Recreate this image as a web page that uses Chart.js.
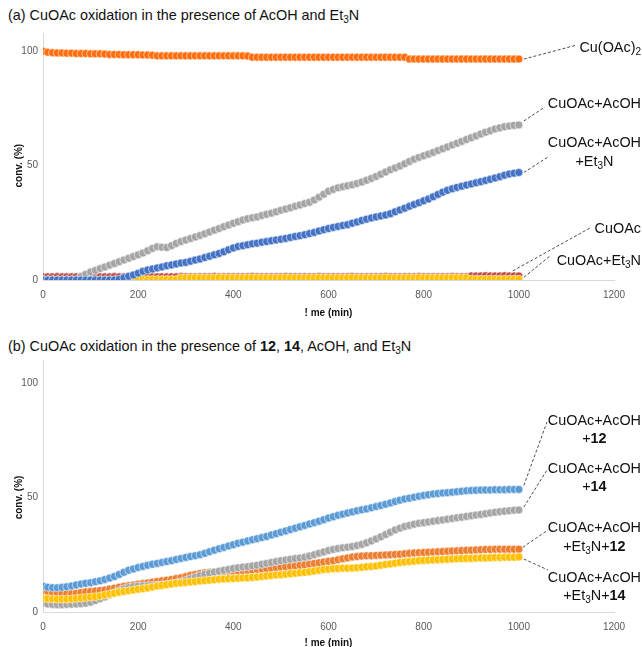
<!DOCTYPE html>
<html>
<head>
<meta charset="utf-8">
<script src="https://cdn.jsdelivr.net/npm/chart.js@4.4.1/dist/chart.umd.min.js"></script>
<style>
  body { margin: 0; background: #fff; font-family: "Liberation Sans", Arial, sans-serif; }
  #wrap { position: relative; width: 642px; height: 647px; overflow: hidden; }
  canvas { position: absolute; left: 0; }
  .ttl { position: absolute; left: 8px; font-size: 14.4px; color: #111; white-space: nowrap; line-height: 16px; }
  .lab { position: absolute; right: 1px; font-size: 14.4px; color: #111; text-align: center; white-space: nowrap; }
  sub { font-size: 10px; vertical-align: -3px; line-height: 0; }
</style>
</head>
<body>
<div id="wrap">
  <div class="ttl" style="top:7px">(a) CuOAc oxidation in the presence of AcOH and Et<sub>3</sub>N</div>
  <canvas id="chartA" width="642" height="322" style="top:0"></canvas>
  <div class="lab" style="top:38px;line-height:18px">Cu(OAc)<sub>2</sub></div>
  <div class="lab" style="top:94px;line-height:18px">CuOAc+AcOH</div>
  <div class="lab" style="top:133px;line-height:19px">CuOAc+AcOH<br>+Et<sub>3</sub>N</div>
  <div class="lab" style="top:219px;line-height:18px">CuOAc</div>
  <div class="lab" style="top:251px;line-height:18px">CuOAc+Et<sub>3</sub>N</div>

  <div class="ttl" style="top:338px">(b) CuOAc oxidation in the presence of <b>12</b>, <b>14</b>, AcOH, and Et<sub>3</sub>N</div>
  <canvas id="chartB" width="642" height="317" style="top:330px"></canvas>
  <div class="lab" style="top:411px;line-height:18px">CuOAc+AcOH<br>+<b>12</b></div>
  <div class="lab" style="top:459px;line-height:18px">CuOAc+AcOH<br>+<b>14</b></div>
  <div class="lab" style="top:518px;line-height:19px">CuOAc+AcOH<br>+Et<sub>3</sub>N+<b>12</b></div>
  <div class="lab" style="top:568px;line-height:18px">CuOAc+AcOH<br>+Et<sub>3</sub>N+<b>14</b></div>
</div>
<script>
// sampling times (min)
const times = [
  0, 10, 20, 30, 40, 50, 60, 70, 80, 90,
  100, 110, 120, 130, 140, 150, 160, 170, 180, 190,
  200, 210, 220, 230, 240, 250, 260, 270, 280, 290,
  300, 310, 320, 330, 340, 350, 360, 370, 380, 390,
  400, 410, 420, 430, 440, 450, 460, 470, 480, 490,
  500, 510, 520, 530, 540, 550, 560, 570, 580, 590,
  600, 610, 620, 630, 640, 650, 660, 670, 680, 690,
  700, 710, 720, 730, 740, 750, 760, 770, 780, 790,
  800, 810, 820, 830, 840, 850, 860, 870, 880, 890,
  900, 910, 920, 930, 940, 950, 960, 970, 980, 990,
  1000
];
const xTicks = [0, 200, 400, 600, 800, 1000, 1200];
const yTicks = [0, 50, 100];

// (a) conversions (%)
const aCuOAc2 = [
  100, 99.6, 99.4, 99.3, 99.3, 99.2, 99.2, 99.0, 99.0, 99.0,
  98.9, 98.9, 98.9, 98.8, 98.6, 98.6, 98.6, 98.5, 98.5, 98.5,
  98.5, 98.4, 98.4, 98.3, 98.0, 98.0, 98.0, 98.0, 98.0, 98.0,
  98.0, 98.0, 98.0, 98.0, 98.0, 98.0, 98.0, 98.0, 98.0, 98.0,
  98.0, 98.0, 98.0, 97.9, 97.4, 97.4, 97.4, 97.4, 97.4, 97.4,
  97.4, 97.4, 97.4, 97.4, 97.4, 97.4, 97.4, 97.4, 97.4, 97.4,
  97.4, 97.4, 97.4, 97.4, 97.4, 97.4, 97.4, 97.4, 97.4, 97.4,
  97.4, 97.4, 97.4, 97.4, 97.4, 97.4, 97.4, 96.6, 96.6, 96.6,
  96.6, 96.6, 96.6, 96.6, 96.6, 96.6, 96.6, 96.6, 96.6, 96.6,
  96.6, 96.6, 96.6, 96.6, 96.6, 96.6, 96.6, 96.6, 96.6, 96.6,
  96.6
];
const aAcOH = [
  0, 0, 0, 0, 0, 0, 0, 0, 1.5, 2.5,
  3.5, 4.2, 5, 5.7, 6.5, 7.2, 8, 8.7, 9.5, 10.3,
  11, 11.8, 12.8, 13.8, 14.5, 14.3, 14.2, 15, 16, 16.8,
  17.5, 18.2, 18.8, 19.5, 20.2, 21, 21.8, 22.5, 23.3, 24,
  24.8, 25.5, 26.2, 26.8, 27.2, 27.6, 28.2, 28.7, 29.2, 29.8,
  30.5, 31, 31.6, 32.2, 32.8, 33.4, 34, 35, 36.2, 37.5,
  38.8, 39.6, 40.3, 40.8, 41.2, 41.6, 42.2, 42.8, 43.6, 44.4,
  45.3, 46.2, 47.2, 48.2, 49, 49.8, 50.8, 51.8, 52.8, 53.6,
  54.3, 55, 55.8, 56.6, 57.4, 58.2, 59, 59.8, 60.6, 61.4,
  62.2, 63, 63.8, 64.6, 65.3, 66, 66.5, 67, 67.3, 67.6,
  67.8
];
const aAcOHEt3N = [
  0, 0, 0, 0, 0, 0, 0, 0, 0, 0,
  0, 0, 0, 0, 0, 0, 0.3, 1, 1.6, 2.2,
  3, 3.8, 4.4, 4.8, 5.3, 5.7, 6.2, 6.6, 7, 7.4,
  7.7, 8.2, 8.7, 9.2, 9.8, 10.4, 11, 11.6, 12.3, 13.2,
  14, 14.6, 15, 15.4, 15.8, 16.1, 16.5, 16.8, 17.2, 17.5,
  17.8, 18.2, 18.6, 19, 19.4, 19.8, 20.3, 20.8, 21.4, 22,
  22.5, 23, 23.4, 23.8, 24.2, 24.8, 25.4, 26, 26.6, 27.1,
  27.6, 28, 28.4, 29, 29.8, 30.6, 31.4, 32.2, 33, 33.8,
  34.6, 35.4, 36.4, 37.4, 38.4, 39.2, 39.9, 40.5, 41, 41.5,
  42, 42.5, 43, 43.5, 44, 44.6, 45.2, 45.8, 46.3, 46.7,
  47
];
const aCuOAc = [
  1.4, 1.4, 1.4, 1.5, 1.4, 1.4, 1.4, 1.4, 1.5, 1.4,
  1.4, 1.4, 1.4, 1.4, 1.4, 1.5, 1.4, 1.4, 1.4, 1.4,
  1.4, 1.4, 1.5, 1.4, 1.4, 1.4, 1.4, 1.4, 1.4, 1.5,
  1.4, 1.4, 1.4, 1.4, 1.4, 1.4, 1.5, 1.4, 1.4, 1.4,
  1.4, 1.4, 1.4, 1.4, 1.5, 1.4, 1.4, 1.4, 1.4, 1.4,
  1.4, 1.5, 1.4, 1.4, 1.4, 1.4, 1.4, 1.4, 1.5, 1.4,
  1.4, 1.4, 1.4, 1.4, 1.4, 1.5, 1.4, 1.4, 1.4, 1.4,
  1.4, 1.4, 1.5, 1.4, 1.4, 1.4, 1.4, 1.4, 1.4, 1.5,
  1.4, 1.4, 1.4, 1.4, 1.4, 1.4, 1.5, 1.4, 1.4, 1.4,
  1.8, 1.8, 1.8, 1.9, 1.8, 1.8, 1.8, 1.9, 1.8, 1.8,
  1.8
];
const aEt3N = [
  0, 0, 0, 0, 0, 0, 0, 0, 0, 0,
  0, 0, 0, 0, 0, 0, 0, 0.2, 0.2, 0.2,
  0.2, 0.2, 0.2, 0.2, 0.2, 0.2, 0.2, 0.2, 0.2, 0.9,
  0.9, 0.9, 1.0, 0.9, 0.9, 0.9, 0.9, 1.0, 0.9, 0.9,
  0.9, 0.9, 0.9, 0.9, 1.0, 0.9, 0.9, 0.9, 0.9, 0.9,
  0.9, 1.0, 0.9, 0.9, 0.9, 0.9, 0.9, 0.9, 1.0, 0.9,
  0.9, 0.9, 0.9, 0.9, 0.9, 1.0, 0.9, 0.9, 0.9, 0.9,
  0.9, 0.9, 1.0, 0.9, 0.9, 0.9, 0.9, 0.9, 0.9, 1.0,
  0.9, 0.9, 0.9, 0.9, 0.9, 0.9, 1.0, 0.9, 0.9, 0.9,
  0.3, 0.3, 0.3, 0.3, 0.3, 0.3, 0.3, 0.3, 0.3, 0.3,
  0.3
];

// (b) conversions (%)
const bAcOH12 = [
  11.2, 10.8, 10.6, 10.6, 10.8, 11, 11.4, 11.8, 12.2, 12.5,
  12.8, 13.2, 13.6, 14.2, 14.8, 15.5, 16.4, 17.3, 18.2, 18.8,
  19.4, 19.9, 20.4, 20.8, 21.2, 21.6, 22, 22.4, 22.9, 23.4,
  23.8, 24.2, 24.6, 25, 25.6, 26.3, 27, 27.6, 28.2, 28.8,
  29.4, 30, 30.5, 31, 31.5, 32, 32.5, 33, 33.6, 34.2,
  34.8, 35.4, 36, 36.6, 37.2, 37.8, 38.4, 39, 39.6, 40.3,
  41, 41.6, 42.2, 42.7, 43.2, 43.7, 44.2, 44.6, 45, 45.5,
  46, 46.5, 47, 47.6, 48.2, 48.8, 49.3, 49.7, 50.1, 50.5,
  50.9, 51.2, 51.5, 51.7, 51.9, 52.1, 52.3, 52.5, 52.7, 52.9,
  53, 53.1, 53.2, 53.3, 53.3, 53.4, 53.4, 53.4, 53.5, 53.5,
  53.5
];
const bAcOH14 = [
  3.8, 3.5, 3.3, 3.2, 3.2, 3.3, 3.4, 3.5, 3.6, 3.8,
  4.3, 5, 5.8, 6.6, 7.5, 8.4, 9.3, 10.1, 10.7, 11.1,
  11.3, 11.4, 11.5, 11.6, 11.7, 11.8, 12, 12.3, 12.7, 13.2,
  13.8, 14.5, 15.2, 15.9, 16.5, 17, 17.4, 17.8, 18.2, 18.6,
  19, 19.3, 19.6, 19.8, 20.1, 20.4, 20.8, 21.2, 21.6, 22,
  22.4, 22.7, 23, 23.3, 23.6, 23.9, 24.4, 25, 25.6, 26.2,
  26.8, 27.3, 27.7, 28, 28.3, 28.6, 29, 29.5, 30.2, 31,
  31.9, 32.8, 33.8, 34.8, 35.8, 36.6, 37.3, 37.8, 38.3, 38.7,
  39, 39.3, 39.6, 39.9, 40.2, 40.5, 40.8, 41.1, 41.4, 41.7,
  42, 42.3, 42.6, 42.9, 43.2, 43.5, 43.8, 44, 44.2, 44.4,
  44.5
];
const bEt3N12 = [
  9.3, 9, 8.6, 8.3, 8.1, 8, 8, 8.2, 8.5, 8.8,
  9, 9.2, 9.4, 9.6, 10, 10.4, 10.8, 11.2, 11.5, 11.8,
  12.1, 12.4, 12.7, 13, 13.3, 13.6, 13.9, 14.2, 14.6, 15,
  15.5, 16, 16.4, 16.8, 17.1, 17.3, 17.5, 17.6, 17.7, 17.8,
  17.9, 18, 18.1, 18.2, 18.4, 18.6, 18.8, 19, 19.2, 19.4,
  19.6, 19.8, 20, 20.2, 20.4, 20.6, 20.9, 21.2, 21.5, 21.8,
  22.1, 22.4, 22.8, 23.2, 23.6, 24, 24.2, 24.4, 24.5, 24.6,
  24.7, 24.8, 24.9, 25, 25.1, 25.2, 25.4, 25.6, 25.8, 25.9,
  26, 26.1, 26.2, 26.3, 26.4, 26.5, 26.6, 26.7, 26.8, 26.9,
  27, 27.1, 27.2, 27.3, 27.3, 27.4, 27.4, 27.4, 27.4, 27.4,
  27.4
];
const bEt3N14 = [
  6, 5.8, 5.7, 5.6, 5.6, 5.6, 5.7, 5.9, 6.1, 6.3,
  6.5, 6.7, 7, 7.4, 7.8, 8.2, 8.6, 9, 9.3, 9.6,
  9.9, 10.2, 10.5, 10.9, 11.3, 11.6, 11.9, 12.2, 12.5, 12.7,
  12.9, 13.1, 13.3, 13.5, 13.7, 13.9, 14.1, 14.3, 14.4, 14.5,
  14.6, 14.7, 14.8, 14.9, 15.1, 15.3, 15.5, 15.7, 15.9, 16.1,
  16.3, 16.5, 16.7, 16.9, 17.1, 17.3, 17.6, 17.9, 18.2, 18.5,
  18.7, 18.9, 19, 19.1, 19.1, 19.2, 19.3, 19.5, 19.7, 19.9,
  20.1, 20.4, 20.7, 21, 21.3, 21.6, 21.8, 22, 22.2, 22.4,
  22.5, 22.6, 22.7, 22.8, 22.9, 23, 23.1, 23.2, 23.3, 23.4,
  23.4, 23.5, 23.6, 23.6, 23.7, 23.8, 23.8, 23.9, 23.9, 23.9,
  24
];

const FONT = '"Liberation Sans", Arial, sans-serif';

function serie(valores, color, orden) {
  return {
    data: times.map((t, i) => ({ x: t, y: valores[i] })),
    backgroundColor: color,
    borderColor: 'rgba(255,255,255,0.55)',
    pointBorderWidth: 1,
    pointRadius: 4,
    showLine: false,
    order: orden
  };
}

// axis titles and dashed leader lines to the labels
const decoraciones = {
  id: 'decoraciones',
  afterDraw(chart, args, opts) {
    const { ctx } = chart;
    const x = chart.scales.x, y = chart.scales.y;
    ctx.save();
    ctx.fillStyle = '#111';
    ctx.font = 'bold 10px ' + FONT;
    ctx.textAlign = 'center';
    ctx.textBaseline = 'middle';
    ctx.fillText('! me (min)', (x.left + x.right) / 2, opts.xTitleY);
    ctx.translate(19, y.getPixelForValue(50));
    ctx.rotate(-Math.PI / 2);
    ctx.fillText('conv. (%)', 0, 0);
    ctx.restore();

    ctx.save();
    ctx.strokeStyle = '#222';
    ctx.lineWidth = 0.8;
    ctx.setLineDash([3, 2]);
    opts.lineas.forEach(l => {
      const d = chart.data.datasets[l.serie].data;
      const ult = d[d.length - 1];
      const sx = x.getPixelForValue(ult.x) + l.dx;
      const sy = y.getPixelForValue(ult.y) + l.dy;
      ctx.beginPath();
      ctx.moveTo(sx, sy);
      ctx.lineTo(l.ex, l.ey);
      ctx.stroke();
    });
    ctx.restore();
  }
};

function crearGrafico(id, datasets, yMax, padTop, xAltura, lineas) {
  return new Chart(document.getElementById(id), {
    type: 'scatter',
    data: { datasets: datasets },
    plugins: [decoraciones],
    options: {
      responsive: false,
      animation: false,
      layout: { padding: { top: padTop, right: 28, left: 0, bottom: 0 } },
      plugins: {
        legend: { display: false },
        tooltip: { enabled: false },
        decoraciones: { xTitleY: 313, lineas: lineas }
      },
      scales: {
        x: {
          type: 'linear', min: 0, max: 1200,
          afterBuildTicks: s => { s.ticks = xTicks.map(v => ({ value: v })); },
          afterFit: s => { s.height = xAltura; },
          grid: { display: false, drawTicks: false },
          border: { display: true, color: '#d9d9d9', width: 1 },
          ticks: {
            color: '#595959', font: { size: 10, family: FONT }, padding: 9, maxRotation: 0,
            callback: v => String(v)
          }
        },
        y: {
          type: 'linear', min: 0, max: yMax,
          afterBuildTicks: s => { s.ticks = yTicks.map(v => ({ value: v })); },
          afterFit: s => { s.width = 43; },
          grid: { display: false, drawTicks: false },
          border: { display: true, color: '#d9d9d9', width: 1 },
          ticks: {
            color: '#595959', font: { size: 10, family: FONT }, padding: 5,
            callback: v => String(v)
          }
        }
      }
    }
  });
}

// (a)
crearGrafico('chartA', [
  serie(aCuOAc2, '#FF6D0D', 0),
  serie(aAcOHEt3N, '#4472C4', 1),
  serie(aAcOH, '#A5A5A5', 2),
  serie(aEt3N, '#FFC000', 3),
  serie(aCuOAc, '#C0504D', 4)
], 108, 33, 42, [
  { serie: 0, dx: 5, dy: 0, ex: 577, ey: 45 },
  { serie: 2, dx: 5, dy: -4, ex: 545, ey: 107 },
  { serie: 1, dx: 5, dy: 0, ex: 548, ey: 157 },
  { serie: 4, dx: -6, dy: -5, ex: 590, ey: 228 },
  { serie: 3, dx: 5, dy: -2, ex: 550, ey: 256 }
]);

// (b)
crearGrafico('chartB', [
  serie(bAcOH12, '#5B9BD5', 0),
  serie(bEt3N14, '#FFC000', 1),
  serie(bAcOH14, '#A5A5A5', 2),
  serie(bEt3N12, '#ED7D31', 3)
], 110, 30, 35, [
  { serie: 0, dx: 5, dy: -4, ex: 547, ey: 92 },
  { serie: 2, dx: 5, dy: -3, ex: 547, ey: 140 },
  { serie: 3, dx: 4, dy: -2, ex: 548, ey: 200 },
  { serie: 1, dx: 5, dy: 2, ex: 548, ey: 240 }
]);
</script>
</body>
</html>
